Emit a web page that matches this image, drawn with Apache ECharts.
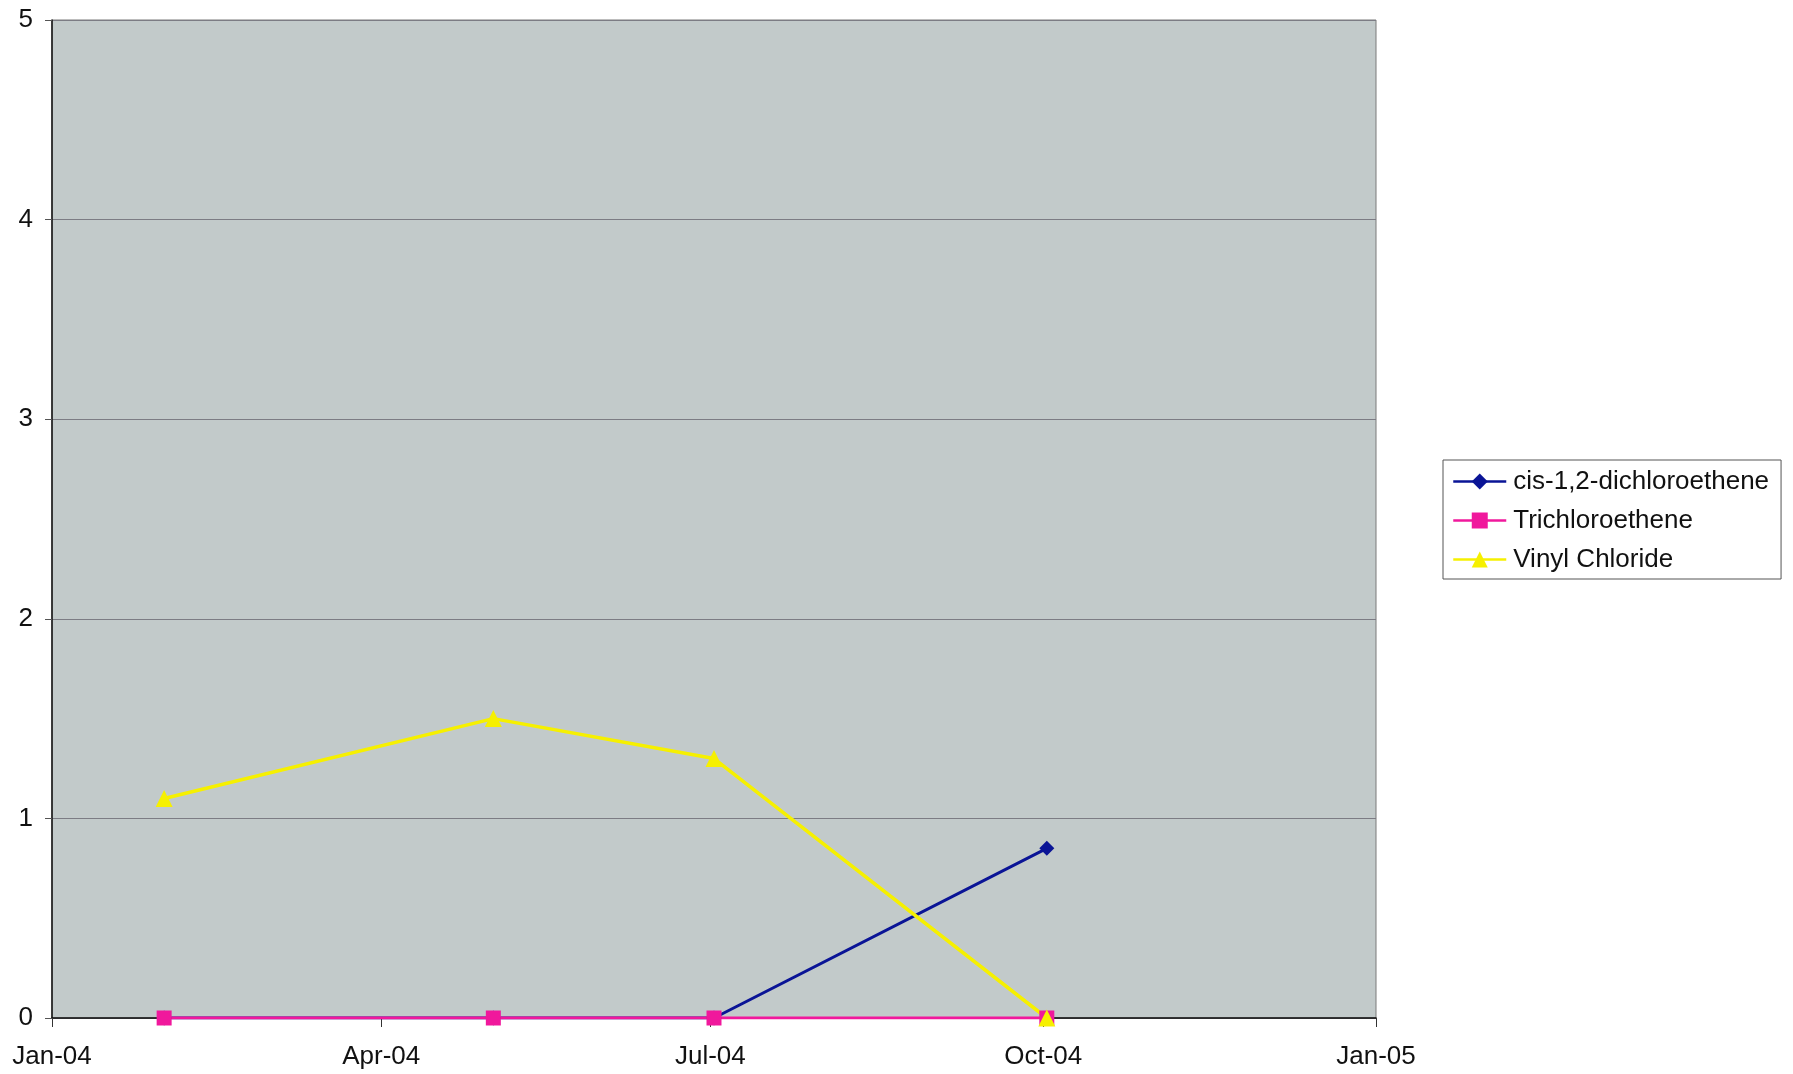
<!DOCTYPE html>
<html>
<head>
<meta charset="utf-8">
<title>Groundwater VOC concentrations 2004</title>
<script src="https://cdn.jsdelivr.net/npm/echarts@6/dist/echarts.min.js"></script>
<style>
  html, body { margin: 0; padding: 0; background: #ffffff; }
  #chart { width: 1793px; height: 1074px; }
</style>
</head>
<body>
<div id="chart"></div>
<script>
// Sampling events and measured concentrations
const sampleDates = ['2004-02-01', '2004-05-02', '2004-07-02', '2004-10-02'];
const cisDCE = [0, 0, 0, 0.85];
const trichloroethene = [0, 0, 0, 0];
const vinylChloride = [1.1, 1.5, 1.3, 0];

const seriesNames = ['cis-1,2-dichloroethene', 'Trichloroethene', 'Vinyl Chloride'];

// Quarterly ticks on the date axis
const tickDates = ['2004-01-01', '2004-04-01', '2004-07-01', '2004-10-01', '2005-01-01'];
const axisMin = tickDates[0];
const axisMax = tickDates[tickDates.length - 1];
const yTicks = [0, 1, 2, 3, 4, 5];

const toTime = s => {
  const [y, m, d] = s.split('-').map(Number);
  return Date.UTC(y, m - 1, d);
};
const pairs = vals => sampleDates.map((d, i) => [toTime(d), vals[i]]);
const tickTimes = tickDates.map(toTime);
const MONTHS = ['Jan','Feb','Mar','Apr','May','Jun','Jul','Aug','Sep','Oct','Nov','Dec'];

const FONT = '"Liberation Sans", Arial, sans-serif';

const chart = echarts.init(document.getElementById('chart'), null, { renderer: 'canvas' });

chart.setOption({
  backgroundColor: '#ffffff',
  animation: false,
  textStyle: { fontFamily: FONT, color: '#000' },
  grid: {
    left: 52, right: 417, top: 20, bottom: 56,
    show: true,
    backgroundColor: '#c2caca',
    borderColor: '#7a7a7a',
    borderWidth: 1
  },
  legend: {
    orient: 'vertical',
    left: 1443,
    top: 460,
    padding: [7, 12, 5, 9],
    itemGap: 10,
    itemWidth: 53,
    itemHeight: 20,
    borderColor: '#555',
    borderWidth: 1,
    backgroundColor: '#ffffff',
    lineStyle: { width: 2.5 },
    textStyle: { fontFamily: FONT, fontSize: 26, color: '#111', lineHeight: 29, padding: [0, 0, 0, 2] },
    data: seriesNames
  },
  xAxis: {
    type: 'value',
    min: toTime(axisMin),
    max: toTime(axisMax),
    axisLine: { show: true, onZero: false, lineStyle: { color: '#111', width: 1.5 } },
    axisTick: { show: true, inside: false, length: 9, customValues: tickTimes, lineStyle: { color: '#333' } },
    axisLabel: {
      customValues: tickTimes,
      margin: 26,
      fontSize: 26,
      fontFamily: FONT,
      color: '#111',
      showMinLabel: true,
      showMaxLabel: true,
      formatter: v => {
        const d = new Date(v);
        return MONTHS[d.getUTCMonth()] + '-' + String(d.getUTCFullYear()).slice(2);
      }
    },
    splitLine: { show: false }
  },
  yAxis: {
    type: 'value',
    min: yTicks[0],
    max: yTicks[yTicks.length - 1],
    interval: 1,
    axisLine: { show: true, lineStyle: { color: '#111', width: 1.5 } },
    axisTick: { show: true, inside: false, length: 7, lineStyle: { color: '#555' } },
    axisLabel: { margin: 19, fontSize: 26, fontFamily: FONT, color: '#111' },
    splitLine: { show: true, lineStyle: { color: '#7c7c84', width: 1 } }
  },
  series: [
    {
      name: seriesNames[0],
      type: 'line',
      data: pairs(cisDCE),
      symbol: 'diamond',
      symbolSize: 15,
      color: '#0a1496',
      lineStyle: { color: '#0a1496', width: 3 },
      itemStyle: { color: '#0a1496' }
    },
    {
      name: seriesNames[1],
      type: 'line',
      data: pairs(trichloroethene),
      symbol: 'rect',
      symbolSize: 15,
      color: '#f0189c',
      lineStyle: { color: '#f0189c', width: 3 },
      itemStyle: { color: '#f0189c' }
    },
    {
      name: seriesNames[2],
      type: 'line',
      data: pairs(vinylChloride),
      symbol: 'triangle',
      symbolSize: 17,
      color: '#f6f000',
      lineStyle: { color: '#f6f000', width: 3.5 },
      itemStyle: { color: '#f6f000' }
    }
  ]
});
</script>
</body>
</html>
